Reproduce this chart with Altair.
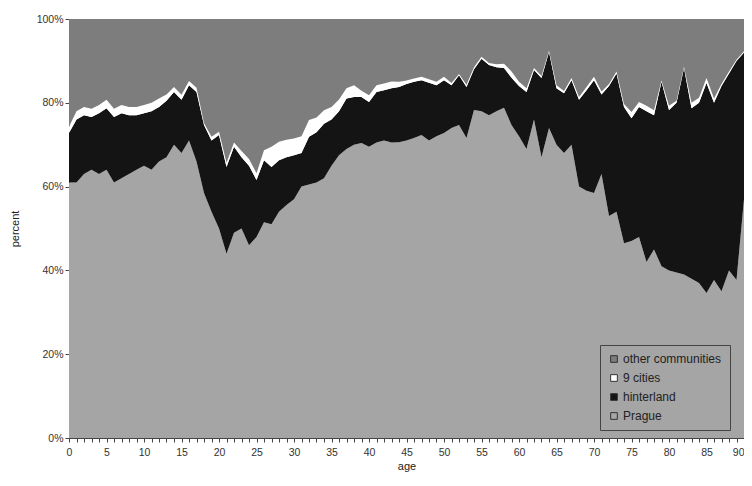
import altair as alt
import pandas as pd

ages = list(range(0, 91))

# share of Prague (%)
prague = [61, 61, 63, 64, 63, 64, 61, 62, 63, 64,
          65, 64, 66, 67, 70, 68, 71, 66, 58.5, 54,
          50, 44, 49, 50, 46, 48, 51.5, 51, 54, 55.6,
          57, 60, 60.5, 61, 62, 65, 67.5, 69, 70, 70.4,
          69.5, 70.5, 71, 70.5, 70.6, 71, 71.6, 72.3, 71, 72,
          72.8, 74, 74.7, 71.6, 78.3, 78, 77, 78, 78.8, 74.7,
          72, 69, 76, 67, 74, 70, 68, 70, 60, 59,
          58.5, 63, 53, 54, 46.5, 47, 48, 42, 45, 41,
          40, 39.5, 39, 38, 37, 34.6, 37.7, 35, 40, 37.7,
          57]

# share of hinterland (%)
hinterland = [11.8, 15, 14, 12.6, 14.5, 14.7, 15.6, 15.5, 14, 13,
              12.5, 14, 13, 13.5, 12.6, 12.7, 13.2, 16.6, 16.2, 17,
              22.3, 20.7, 20.5, 17, 19, 13.6, 14.8, 13.7, 12.3, 11.4,
              10.5, 8, 11.4, 12, 13, 11, 10.5, 12, 11.4, 11,
              10.7, 12.1, 12, 13, 13.2, 13.5, 13.4, 13.1, 13.8, 12.2,
              12.6, 10.2, 11.9, 12.2, 9.7, 12.5, 12, 10.5, 9.5, 11.3,
              12, 13.6, 11.8, 18.9, 18.1, 13.5, 14.3, 15.4, 20.7, 24,
              26.9, 19, 31, 33, 32.5, 29.3, 31, 36, 32, 44,
              38.3, 40.5, 49.3, 40.7, 43, 50.1, 42.3, 49, 47, 52.3,
              35]

# share of the 9 cities (%)
cities9 = [1.5, 2, 2, 2, 2, 2, 2, 2, 2, 2,
           2, 2, 2, 1.5, 1.2, 1.2, 1, 1, 0.5, 0.9,
           0.8, 1, 1, 1.5, 1.6, 1.6, 2.4, 4.8, 4.4, 4.2,
           4, 4, 4, 3.5, 3.2, 3, 2.8, 2.5, 2.8, 1.5,
           1.6, 1.6, 1.6, 1.6, 1.2, 0.8, 0.8, 0.8, 0.8, 0.8,
           0.8, 0.5, 0.3, 0.5, 0.5, 0.5, 0.5, 0.7, 1, 1.5,
           1, 0.9, 0.5, 0.5, 0.3, 0.7, 0.5, 0.5, 0.7, 0.8,
           0.8, 0.7, 0.5, 0.5, 0.7, 1.5, 1.2, 1.3, 1.2, 0.3,
           1, 0.5, 0.3, 1.3, 1.2, 1.2, 1, 0.5, 0.5, 0.3,
           0.3]

categories = ["other communities", "9 cities", "hinterland", "Prague"]
colors = ["#7d7d7d", "#ffffff", "#141414", "#a5a5a5"]
y_ticks = [0, 20, 40, 60, 80, 100]

rows = []
for i, a in enumerate(ages):
    other = 100 - prague[i] - hinterland[i] - cities9[i]
    vals = {"Prague": prague[i], "hinterland": hinterland[i],
            "9 cities": cities9[i], "other communities": other}
    for k, cat in enumerate(["Prague", "hinterland", "9 cities", "other communities"]):
        rows.append({"age": a, "category": cat, "value": vals[cat], "ord": k})
df = pd.DataFrame(rows)

font = "Liberation Sans"

chart = alt.Chart(df).mark_area(interpolate="linear", strokeWidth=0).encode(
    x=alt.X("age:Q",
            scale=alt.Scale(domain=[0, 90], nice=False, zero=False),
            axis=alt.Axis(values=ages, title="age", grid=False,
                          labelExpr="datum.value % 5 == 0 ? datum.label : ''",
                          labelAlign={"expr": "datum.value == 90 ? 'right' : 'center'"},
                          labelOverlap=False, labelFlush=False,
                          tickSize=4, tickColor="#444", domainColor="#444",
                          labelPadding=5, titlePadding=3)),
    y=alt.Y("value:Q", stack="zero",
            scale=alt.Scale(domain=[0, 100], nice=False),
            axis=alt.Axis(values=y_ticks, title="percent", grid=False,
                          labelExpr="datum.value + '%'",
                          tickSize=4, tickColor="#444", domainColor="#444",
                          labelPadding=2, titlePadding=16)),
    color=alt.Color("category:N",
                    scale=alt.Scale(domain=categories, range=colors),
                    legend=alt.Legend(title=None, orient="none",
                                      legendX=531, legendY=326,
                                      direction="vertical",
                                      symbolType="square", symbolSize=45,
                                      symbolStrokeColor="#333",
                                      symbolStrokeWidth=1,
                                      labelFont=font, labelFontSize=12,
                                      labelColor="#222", labelOffset=3,
                                      rowPadding=7, padding=8,
                                      strokeColor="#444", fillColor="#a5a5a5",
                                      labelLimit=200)),
    order=alt.Order("ord:Q"),
).properties(
    width=675, height=419,
    autosize=alt.AutoSizeParams(type="none"),
    padding={"left": 61, "top": 11, "right": 0, "bottom": 36},
).configure_view(
    stroke="#666", strokeWidth=1
).configure_axis(
    labelFont=font, labelFontSize=10.5, labelColor="#333",
    titleFont=font, titleFontSize=11, titleFontWeight="normal", titleColor="#222",
)

chart.save("out.html", embed_options={"renderer": "svg", "actions": False})
